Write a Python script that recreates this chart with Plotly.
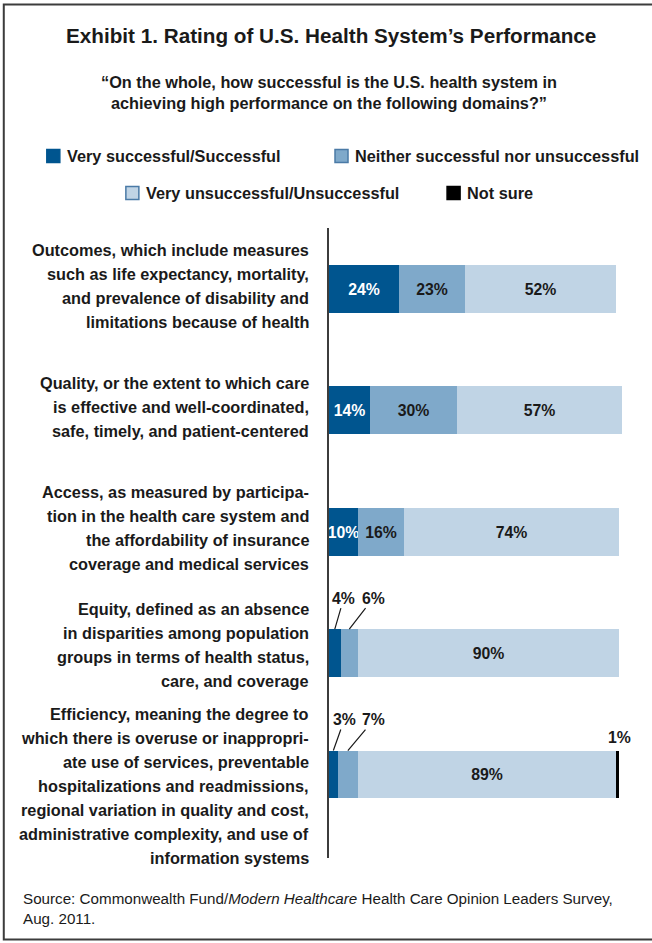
import plotly.graph_objects as go

# ---- data -------------------------------------------------------------
categories = ["Outcomes", "Quality", "Access", "Equity", "Efficiency"]

category_labels = [
    "Outcomes, which include measures<br>such as life expectancy, mortality,<br>"
    "and prevalence of disability and<br>limitations because of health",
    "Quality, or the extent to which care<br>is effective and well-coordinated,<br>"
    "safe, timely, and patient-centered",
    "Access, as measured by participa-<br>tion in the health care system and<br>"
    "the affordability of insurance<br>coverage and medical services",
    "Equity, defined as an absence<br>in disparities among population<br>"
    "groups in terms of health status,<br>care, and coverage",
    "Efficiency, meaning the degree to<br>which there is overuse or inappropri-<br>"
    "ate use of services, preventable<br>hospitalizations and readmissions,<br>"
    "regional variation in quality and cost,<br>administrative complexity, and use of<br>"
    "information systems",
]

series_names = [
    "Very successful/Successful",
    "Neither successful nor unsuccessful",
    "Very unsuccessful/Unsuccessful",
    "Not sure",
]
very_successful = [24, 14, 10, 4, 3]
neither = [23, 30, 16, 6, 7]
unsuccessful = [52, 57, 74, 90, 89]
not_sure = [0, 0, 0, 0, 1]

title_text = "Exhibit 1. Rating of U.S. Health System\u2019s Performance"
subtitle_text = ("\u201cOn the whole, how successful is the U.S. health system in<br>"
                 "achieving high performance on the following domains?\u201d")
source_text = ("Source: Commonwealth Fund/<i>Modern Healthcare</i> Health Care Opinion "
               "Leaders Survey,<br>Aug. 2011.")

# ---- style ------------------------------------------------------------
colors = ["#00558f", "#7fa9ca", "#c0d4e5", "#000000"]
text_colors = ["#ffffff", "#1a1a1a", "#1a1a1a", "#1a1a1a"]
legend_borders = ["#00558f", "#4a7aa6", "#4a7aa6", "#000000"]
FONT = "Liberation Sans, Arial, sans-serif"
INK = "#1a1a1a"

W, H = 652, 943
PLOT_L, PLOT_T, PLOT_B = 329, 228, 858
XMAX = 102
PX_PER_UNIT = 2.9
PLOT_R = PLOT_L + XMAX * PX_PER_UNIT
Y_RANGE = [4.688, -0.503]
BAR_WIDTH = 0.395
INSIDE_MIN = 10  # smaller segments get a callout instead of an inside label


def px_x(px):
    return (px - PLOT_L) / (PLOT_R - PLOT_L)


def px_y(py):
    return (PLOT_B - py) / (PLOT_B - PLOT_T)


def cat_px(i):
    return PLOT_T + (i - Y_RANGE[1]) / (Y_RANGE[0] - Y_RANGE[1]) * (PLOT_B - PLOT_T)


def bold(size, color=INK):
    return dict(family=FONT, size=size, color=color, weight="bold")


series_values = [very_successful, neither, unsuccessful, not_sure]

fig = go.Figure()
for name, vals, col, tcol in zip(series_names, series_values, colors, text_colors):
    labels = [f"{v}%" if v >= INSIDE_MIN else "" for v in vals]
    fig.add_trace(go.Bar(
        y=categories, x=vals, name=name, orientation="h",
        width=BAR_WIDTH, marker=dict(color=col, line=dict(width=0)),
        text=labels, textposition="inside", insidetextanchor="middle",
        textangle=0, constraintext="none",
        textfont=bold(15.8, tcol),
        hoverinfo="skip", showlegend=False,
    ))

annotations = []
shapes = []

# frame (open on the right side)
shapes.append(dict(type="rect", xref="paper", yref="paper",
                   x0=px_x(4), x1=px_x(700), y0=px_y(939.5), y1=px_y(4.5),
                   line=dict(color="#3c3c3c", width=2), layer="below"))

# title and question
annotations.append(dict(text=title_text, xref="paper", yref="paper",
                        x=px_x(331), y=px_y(35.5), xanchor="center", yanchor="middle",
                        showarrow=False, font=bold(20.7)))
annotations.append(dict(text=subtitle_text, xref="paper", yref="paper",
                        x=px_x(329), y=px_y(92), xanchor="center", yanchor="middle",
                        showarrow=False, align="center", font=bold(16.3)))

# legend: two centred rows of swatches and names
legend_rows = [(156, [(47, 0), (335, 1)]), (193, [(126, 2), (447, 3)])]
SW = 13
for yc, items in legend_rows:
    for x0, k in items:
        shapes.append(dict(type="rect", xref="paper", yref="paper",
                           x0=px_x(x0), x1=px_x(x0 + SW),
                           y0=px_y(yc + SW / 2), y1=px_y(yc - SW / 2),
                           fillcolor=colors[k],
                           line=dict(color=legend_borders[k], width=1.5)))
        annotations.append(dict(text=series_names[k], xref="paper", yref="paper",
                                x=px_x(x0 + SW + 5), y=px_y(yc), xanchor="left",
                                yanchor="middle", showarrow=False, font=bold(16.3)))

# category descriptions, right-aligned beside the axis
label_offsets = [-3, -3, -4, -8, 11]
LINE_H = 24
for i, lab in enumerate(category_labels):
    lines = lab.split("<br>")
    centre = cat_px(i) + label_offsets[i]
    for k, line in enumerate(lines):
        yc = centre + (k - (len(lines) - 1) / 2) * LINE_H
        annotations.append(dict(text=line, xref="paper", yref="paper",
                                x=px_x(311), y=px_y(yc), xanchor="right",
                                yanchor="middle", showarrow=False, font=bold(16.3)))

# callouts for the thin segments
callout_offsets = {0: 9, 1: 24}
for i in range(len(categories)):
    start = 0
    for s, vals in enumerate(series_values[:2]):
        v = vals[i]
        if v < INSIDE_MIN:
            annotations.append(dict(
                text=f"{v}%", x=start + v / 2, y=i - BAR_WIDTH / 2,
                xref="x", yref="y", showarrow=True, arrowhead=0, arrowwidth=1.2,
                arrowcolor=INK, ax=callout_offsets[s] + (2 if i == 4 else 0),
                ay=-31, standoff=0, font=bold(15.8)))
        start += v
    if not_sure[i] > 0:
        total = very_successful[i] + neither[i] + unsuccessful[i] + not_sure[i]
        annotations.append(dict(
            text=f"{not_sure[i]}%", x=total, y=i - BAR_WIDTH / 2,
            xref="x", yref="y", showarrow=False, yanchor="middle", yshift=13,
            font=bold(15.8)))

# source note
annotations.append(dict(text=source_text, xref="paper", yref="paper",
                        x=px_x(21), y=px_y(908), xanchor="left", yanchor="middle",
                        align="left", showarrow=False,
                        font=dict(family=FONT, size=15.2, color=INK)))

fig.update_layout(
    width=W, height=H, autosize=False,
    margin=dict(l=PLOT_L, r=W - PLOT_R, t=PLOT_T, b=H - PLOT_B, pad=0),
    paper_bgcolor="white", plot_bgcolor="white",
    barmode="stack", bargap=0,
    xaxis=dict(range=[0, XMAX], visible=False, fixedrange=True),
    yaxis=dict(range=Y_RANGE, showticklabels=False, ticks="", showgrid=False,
               zeroline=False, showline=True, linecolor="#3c3c3c", linewidth=2,
               fixedrange=True),
    annotations=annotations, shapes=shapes,
    showlegend=False,
)

fig.write_html("out.html", config={"displayModeBar": False})
